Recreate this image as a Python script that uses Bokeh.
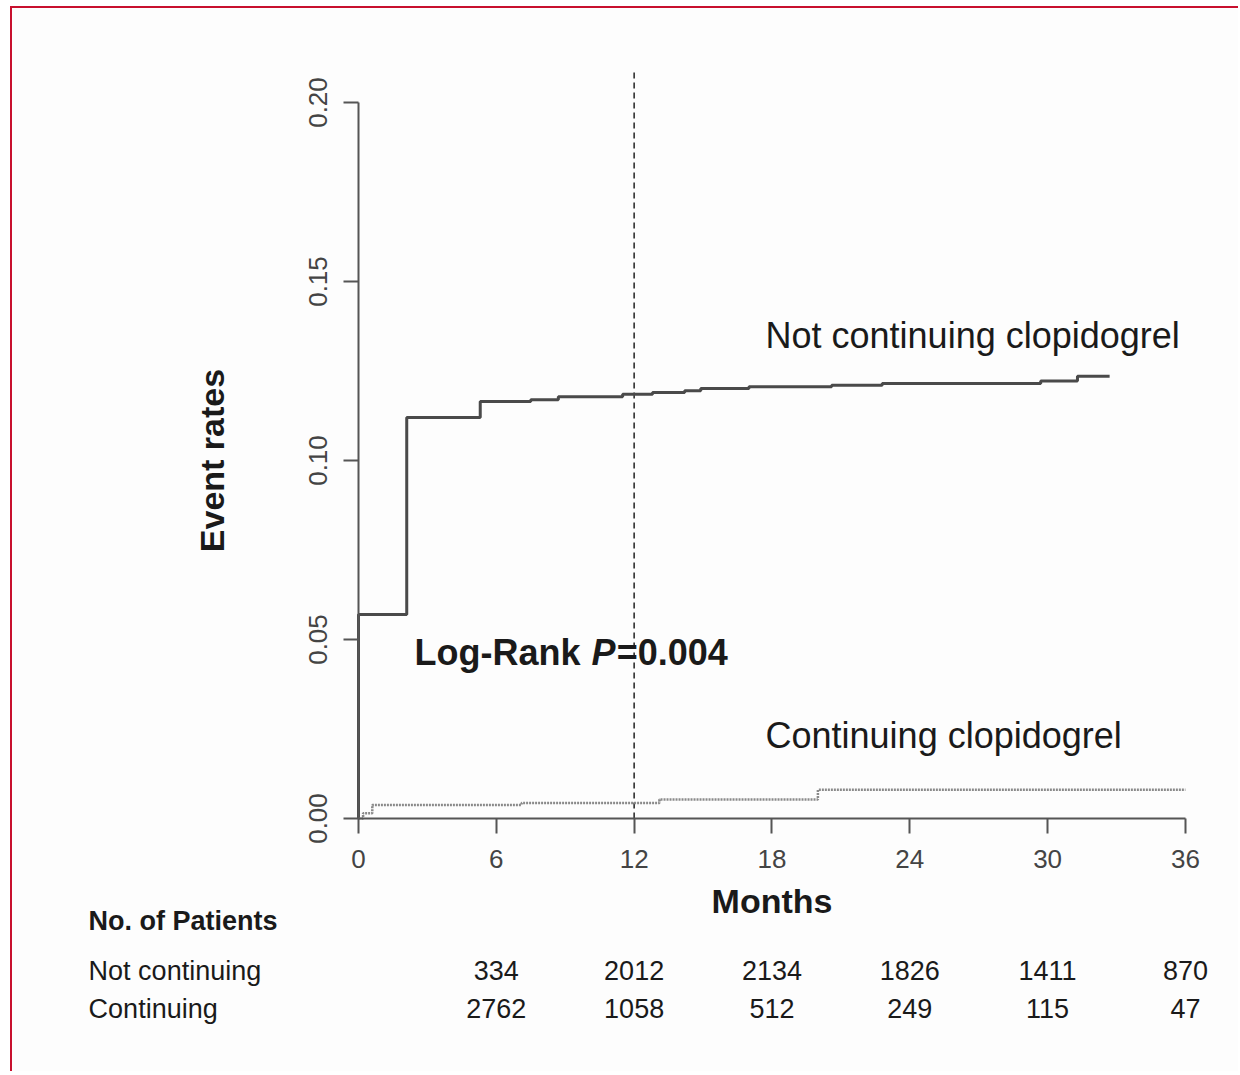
from bokeh.plotting import figure
from bokeh.models import (Range1d, FixedTicker, PrintfTickFormatter, Label,
                          LabelSet, ColumnDataSource)
from bokeh.core.properties import value
from bokeh.embed import file_html
from bokeh.resources import INLINE

# ---------------- data ----------------
nc_months = [0, 0, 2.1, 5.3, 7.5, 8.7, 11.5, 12.8, 14.2, 14.9, 17.0, 20.6, 22.8, 29.7, 31.3, 32.7]
nc_rates = [0, 0.057, 0.112, 0.1165, 0.117, 0.1178, 0.1185, 0.119, 0.1195, 0.1201, 0.1206,
            0.121, 0.1215, 0.1222, 0.1235, 0.1235]
c_months = [0, 0.2, 0.6, 7.1, 13.1, 20.0, 36]
c_rates = [0, 0.0015, 0.0038, 0.0043, 0.0053, 0.0080, 0.0080]

x_ticks = [0, 6, 12, 18, 24, 30, 36]
y_ticks = [0.0, 0.05, 0.10, 0.15, 0.20]
landmark_month = 12
landmark_top = 0.2095

risk_months = [6, 12, 18, 24, 30, 36]
risk_not_continuing = [334, 2012, 2134, 1826, 1411, 870]
risk_continuing = [2762, 1058, 512, 249, 115, 47]

# ---------------- layout / style ----------------
FONT = "Liberation Sans"
BG = "#fdfdfd"
W, H = 1228, 1065
PX_PER_MONTH = 22.97      # horizontal scale
PX_PER_UNIT = 3580.0      # vertical scale
X0_PX = 346               # x=0 position inside the canvas
Y0_PX = 810               # y=0 position inside the canvas (from top)

x_range = Range1d(-X0_PX / PX_PER_MONTH, (W - X0_PX) / PX_PER_MONTH)
y_range = Range1d(-(H - Y0_PX) / PX_PER_UNIT, Y0_PX / PX_PER_UNIT)

p = figure(width=W, height=H, output_backend="svg", toolbar_location=None,
           x_range=x_range, y_range=y_range, min_border=0)
p.styles = {"margin-left": "10px", "margin-top": "6px",
            "border-left": "2px solid #c8102e", "border-top": "2px solid #c8102e"}
p.background_fill_color = BG
p.border_fill_color = BG
p.outline_line_color = None
p.grid.visible = False

for ax in (p.xaxis[0], p.yaxis[0]):
    ax.fixed_location = 0
    ax.axis_line_color = "#555555"
    ax.axis_line_width = 2
    ax.major_tick_line_color = "#555555"
    ax.major_tick_line_width = 2
    ax.major_tick_out = 15
    ax.major_tick_in = 0
    ax.minor_tick_line_color = None
    ax.major_label_text_font = FONT
    ax.major_label_text_font_size = "26px"
    ax.major_label_text_color = "#444444"
    ax.axis_label_text_font = FONT
    ax.axis_label_text_font_style = "bold"
    ax.axis_label_text_color = "#1a1a1a"

p.xaxis.ticker = FixedTicker(ticks=x_ticks)
p.xaxis.bounds = (x_ticks[0], x_ticks[-1])
p.xaxis.major_label_standoff = 16
p.xaxis.axis_label = "Months"
p.xaxis.axis_label_text_font_size = "34px"
p.xaxis.axis_label_standoff = 11

p.yaxis.ticker = FixedTicker(ticks=y_ticks)
p.yaxis.formatter = PrintfTickFormatter(format="%.2f")
p.yaxis.bounds = (y_ticks[0], y_ticks[-1])
p.yaxis.major_label_orientation = "vertical"
p.yaxis.major_label_standoff = 17
p.yaxis.axis_label = "Event rates"
p.yaxis.axis_label_text_font_size = "34px"
p.yaxis.axis_label_standoff = 75

# landmark line
p.segment(x0=[landmark_month], y0=[0], x1=[landmark_month], y1=[landmark_top],
          line_color="#222222", line_width=1.5, line_dash="6 4")

# curves
p.step(nc_months, nc_rates, mode="after", line_color="#4a4a4a", line_width=3)
p.step(c_months, c_rates, mode="after", line_color="#8a8a8a", line_width=2.5,
       line_dash="2 1")

def lab(x, y, text, size="36px", style="normal", align="left"):
    p.add_layout(Label(x=x, y=y, text=text, text_font=FONT, text_font_size=size,
                       text_font_style=style, text_color="#1a1a1a",
                       text_align=align, text_baseline="middle"))

lab(17.72, 0.1349, "Not continuing clopidogrel")
lab(17.72, 0.0232, "Continuing clopidogrel")
lab(2.44, 0.0464, "Log-Rank", style="bold")
lab(10.14, 0.0464, "P", style="bold italic")
lab(11.24, 0.0464, "=0.004", style="bold")

# number-at-risk table
ROW_HEAD, ROW_NC, ROW_C = -0.0285, -0.0425, -0.0531
lab(-11.75, ROW_HEAD, "No. of Patients", size="27px", style="bold")
lab(-11.75, ROW_NC, "Not continuing", size="27px")
lab(-11.75, ROW_C, "Continuing", size="27px")

src = ColumnDataSource(dict(x=risk_months,
                            nc=[str(v) for v in risk_not_continuing],
                            c=[str(v) for v in risk_continuing],
                            y1=[ROW_NC] * len(risk_months),
                            y2=[ROW_C] * len(risk_months)))
for col, ycol in (("nc", "y1"), ("c", "y2")):
    p.add_layout(LabelSet(x="x", y=ycol, text=col, source=src,
                          text_font=value(FONT), text_font_size=value("27px"),
                          text_color="#1a1a1a", text_align="center",
                          text_baseline="middle"))

open("out.html", "w").write(file_html(p, INLINE))
